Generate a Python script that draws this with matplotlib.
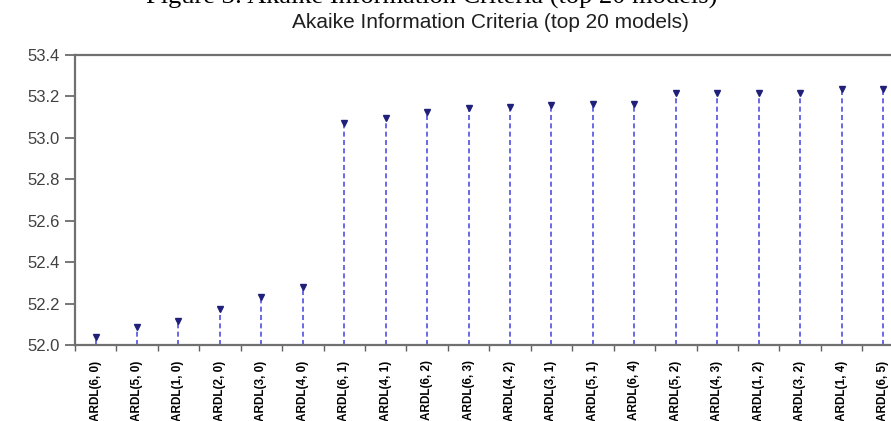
import matplotlib
matplotlib.use("Agg")
import matplotlib.pyplot as plt
import numpy as np

models = ["ARDL(6, 0)", "ARDL(5, 0)", "ARDL(1, 0)", "ARDL(2, 0)", "ARDL(3, 0)",
          "ARDL(4, 0)", "ARDL(6, 1)", "ARDL(4, 1)", "ARDL(6, 2)", "ARDL(6, 3)",
          "ARDL(4, 2)", "ARDL(3, 1)", "ARDL(5, 1)", "ARDL(6, 4)", "ARDL(5, 2)",
          "ARDL(4, 3)", "ARDL(1, 2)", "ARDL(3, 2)", "ARDL(1, 4)", "ARDL(6, 5)"]
aic = [52.041, 52.086, 52.115, 52.173, 52.231, 52.279, 53.069, 53.096, 53.125, 53.145,
       53.150, 53.158, 53.162, 53.162, 53.214, 53.214, 53.215, 53.214, 53.235, 53.235]
yticks = [52.0, 52.2, 52.4, 52.6, 52.8, 53.0, 53.2, 53.4]

plt.rcParams['font.family'] = ['Liberation Sans', 'DejaVu Sans']

fig = plt.figure(figsize=(8.91, 4.21), dpi=100)
ax = fig.add_axes([74.8/891, 75.8/421, 829/891, 290.5/421])

x = np.arange(len(models))
markerline, stemlines, baseline = ax.stem(x, aic, bottom=52.0, linefmt='--', markerfmt='v', basefmt=' ')
stemlines.set_color('#5050e0')
stemlines.set_linewidth(1.2)
stemlines.set_linestyle((0, (3, 2)))
markerline.set_color('#20207a')
markerline.set_markersize(5)

ax.set_xlim(-0.5, len(models) - 0.5)
ax.set_ylim(52.0, 53.4)
ax.set_yticks(yticks)
ax.set_yticklabels([f"{v:.1f}" for v in yticks])
ax.set_xticks(x)
ax.set_xticklabels(models, rotation=90, va='top', ha='center', fontsize=8.5, fontweight='bold')
ax.set_xticks(np.arange(len(models) + 1) - 0.5, minor=True)
ax.tick_params(axis='x', which='major', length=0, pad=11)
ax.tick_params(axis='x', which='minor', length=4, width=1, color='#606060', direction='out')
ax.tick_params(axis='y', length=7, width=1.2, color='#606060', direction='out', labelsize=12,
               labelcolor='#404040', pad=4)

for s in ['left', 'top', 'bottom']:
    ax.spines[s].set_color('#707070')
    ax.spines[s].set_linewidth(1.6)
ax.spines['right'].set_visible(False)

fig.text(490/891, 1 - 23/421, "Akaike Information Criteria (top 20 models)",
         ha='center', va='center', fontsize=15, color='#202020')
fig.text(432/891, 1 - 4/421, "Figure 3: Akaike Information Criteria (top 20 models)",
         ha='center', va='baseline', fontsize=19, family='Liberation Serif', color='black')

fig.savefig("out.png", dpi=100)
